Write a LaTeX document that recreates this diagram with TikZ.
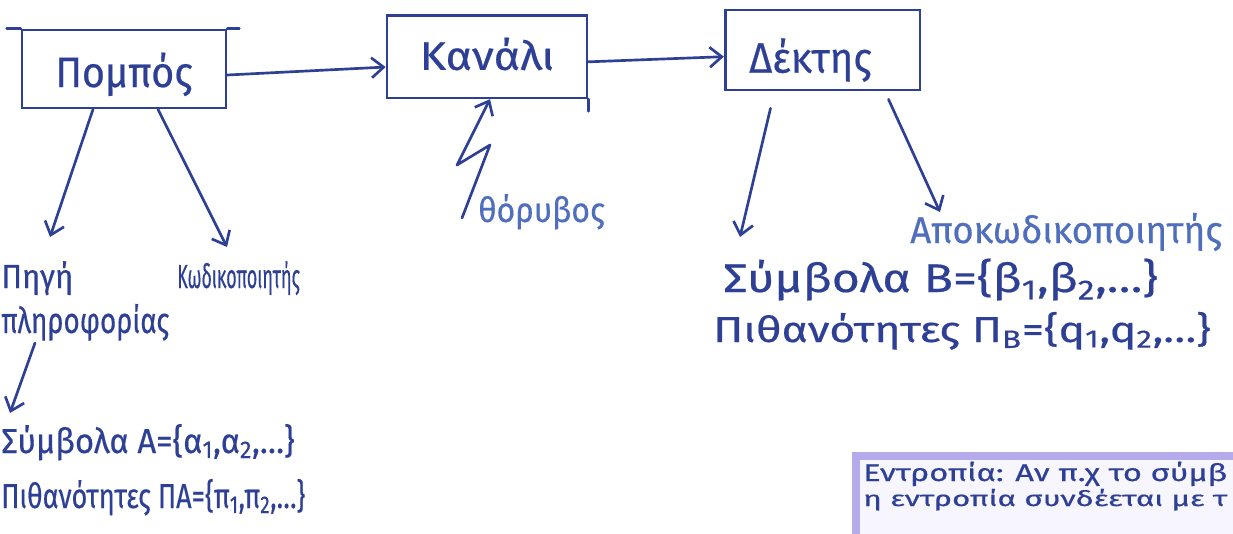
\documentclass[tikz,border=0pt]{standalone}
\usepackage{fontspec}
\usepackage{graphicx}
\setmainfont{Fira Sans}[FakeBold=0.45]
\usetikzlibrary{arrows.meta,calc}
\definecolor{ink}{RGB}{46,64,150}
\definecolor{inkl}{RGB}{80,110,190}
\definecolor{lav}{RGB}{180,170,236}
\definecolor{lavfill}{RGB}{247,245,253}
\newcommand{\fitw}[2]{\resizebox{#1}{\height}{#2}}
\newcommand{\lowered}[2]{\raisebox{-#1}[0pt][0pt]{#2}}
\begin{document}
\begin{tikzpicture}[x=0.75pt,y=-0.75pt,
  inkline/.style={draw=ink,line width=2pt,line cap=round,line join=round},
  arr/.style={inkline,-{Straight Barb[length=9pt,width=15pt]}},
  blockbox/.style={draw=ink,line width=2pt,inner sep=0pt,text=ink},
  lbl/.style={text=ink,inner sep=0pt,anchor=base west},
  notebox/.style={draw=lav,fill=lavfill,line width=6pt,inner sep=0pt,anchor=north west},
]
\useasboundingbox (0,0) rectangle (1233,533);
\fill[white] (0,0) rectangle (1233,533);
\clip (0,0) rectangle (1233,533);

% main blocks
\node[blockbox,minimum width=153pt,minimum height=58.5pt] (pompos) at (124,69)
  {\lowered{13.5pt}{\fontsize{32}{34}\selectfont\fitw{103pt}{Πομπός}}};
\node[blockbox,minimum width=150pt,minimum height=62pt] (kanali) at (487,56.5)
  {\lowered{10pt}{\fontsize{30}{32}\selectfont\fitw{101pt}{Κανάλι}}};
\node[blockbox,minimum width=146pt,minimum height=60pt] (dektis) at (822.5,50)
  {\hspace*{-18pt}\lowered{17pt}{\fontsize{32}{34}\selectfont\fitw{92pt}{Δέκτης}}};
\draw[inkline] (pompos.north west) -- ++(-14,0);
\draw[inkline] (pompos.north east) -- ++(12,0);
\draw[inkline] (kanali.south east) -- ++(0,12);

\draw[arr] ([yshift=-4.5pt]pompos.east) -- ([yshift=-7.9pt]kanali.west);
\draw[arr] ([yshift=-4pt]kanali.east) -- ([yshift=-5pt]dektis.west);

% noise
\node[lbl,text=inkl] (thor) at (478,222) {\fontsize{26}{28}\selectfont\fitw{95pt}{θόρυβος}};
\draw[arr] ($(thor.base west)+(-16,-4)$) -- (490,145) -- (457,165) -- ([xshift=2.25pt]kanali.south);

% transmitter side
\node[lbl] (pigi1) at (1,288) {\fontsize{25}{27}\selectfont\fitw{54pt}{Πηγή}};
\node[lbl] (pigi2) at (1,333) {\fontsize{27}{29}\selectfont\fitw{126pt}{πληροφορίας}};
\node[lbl] (kod) at (177,288) {\fontsize{25}{27}\selectfont\fitw{92pt}{Κωδικοποιητής}};
\draw[arr] ([xshift=-23.25pt]pompos.south) -- ($(pigi1.base west)+(49,-51)$);
\draw[arr] ([xshift=25.5pt]pompos.south) -- ($(kod.base west)+(50,-41)$);

\node[lbl] (symA) at (1,453) {\fontsize{26}{28}\selectfont\fitw{220pt}{Σύμβολα A=\{α\textsubscript{1},α\textsubscript{2},…\}}};
\node[lbl] (probA) at (1,508) {\fontsize{26}{28}\selectfont\fitw{228pt}{Πιθανότητες ΠA=\{π\textsubscript{1},π\textsubscript{2},…\}}};
\draw[arr] ($(pigi2.base west)+(34,10)$) -- ($(symA.base west)+(9,-40)$);

% receiver side
\node[lbl,text=inkl] (apo) at (910,243) {\fontsize{28}{30}\selectfont\fitw{234pt}{Αποκωδικοποιητής}};
\node[lbl] (symB) at (723,292) {\fontsize{30}{32}\selectfont\fitw{326pt}{Σύμβολα B=\{β\textsubscript{1},β\textsubscript{2},…\}}};
\node[lbl] (probB) at (713,342) {\fontsize{27}{30}\selectfont\fitw{373pt}{Πιθανότητες Π\textsubscript{B}=\{q\textsubscript{1},q\textsubscript{2},…\}}};
\draw[arr] ($(dektis.south)+(-52,17)$) -- ($(symB.base west)+(17,-55)$);
\draw[arr] ($(dektis.south)+(66,8)$) -- ($(apo.base west)+(30,-31)$);

% note box
\node[notebox,minimum width=330pt,minimum height=90pt] (note) at (852,452) {};
\node[lbl] (note1) at (863,481) {\fontsize{18}{20}\selectfont\fitw{273pt}{Εντροπία: Αν π.χ το σύμβ}};
\node[lbl] (note2) at (863,506) {\fontsize{16}{18}\selectfont\fitw{273pt}{η εντροπία συνδέεται με τ}};
\end{tikzpicture}
\end{document}
